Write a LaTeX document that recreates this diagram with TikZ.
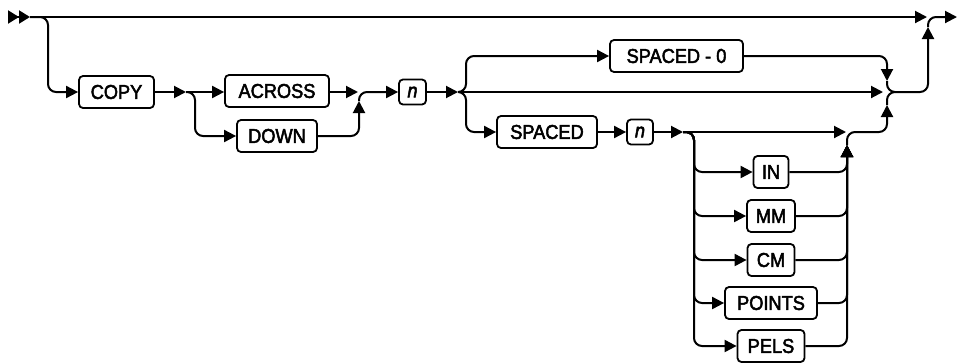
\documentclass[tikz,border=0pt]{standalone}
\usepackage{fontspec}
\setmainfont{Liberation Sans}
\newfontfamily\railfont{Liberation Sans}[FakeBold=2.5, FakeStretch=0.91]
\usetikzlibrary{arrows.meta}

\begin{document}
\begin{tikzpicture}[
      x=1pt, y=-1pt,
      kw/.style={draw, line width=1.8pt, rounded corners=4pt, minimum height=32pt, inner sep=0pt, font=\railfont\fontsize{20}{24}\selectfont},
      var/.style={kw, minimum height=25pt, font=\railfont\fontsize{20}{24}\selectfont\itshape},
      rail/.style={line width=2pt, rounded corners=8pt},
      arrow/.style={rail, -{Triangle[length=12pt, width=12pt]}},
      entry/.style={line width=2pt, -{Triangle[length=11pt, width=13pt]Triangle[length=11pt, width=13pt]}}
  ]
      \useasboundingbox (0,0) rectangle (957,362);

      \node[kw, minimum width=75pt] (copy) at (116.5,92) {COPY};
      \node[kw, minimum width=104pt] (across) at (277,91) {ACROSS};
      \node[kw, minimum width=80pt] (down) at (277,136) {DOWN};
      \node[var, minimum width=27pt] (n1) at (412.5,92) {n};
      \node[kw, minimum width=133pt] (spacedz) at (676.5,56) {SPACED - 0};
      \node[kw, minimum width=100pt] (spaced) at (547,132) {SPACED};
      \node[var, minimum width=26pt] (n2) at (640,132) {n};
      \foreach \u/\w/\y in {IN/35/172, MM/48/216, CM/47/260, POINTS/92/303, PELS/67/346}
          \node[kw, minimum width=\w pt] (\u) at (771,\y) {\u};

      \coordinate (in0) at (8,17);
      \coordinate (s0) at (30,17);
      \coordinate (t1) at (927,17);
      \coordinate (t2) at (928,27);
      \coordinate (fin) at (957,17);
      \coordinate (j1) at (186,92);
      \coordinate (m1) at (358,92);
      \coordinate (m1b) at (359,101);
      \coordinate (j2) at (458,92);
      \coordinate (m2) at (883,92);
      \coordinate (m2a) at (887,81);
      \coordinate (m2b) at (887,105);
      \coordinate (j3) at (683,132);
      \coordinate (m3) at (846,132);
      \coordinate (m3b) at (847,145);

      \draw[entry] (in0) -- (s0);
      \draw[arrow] (s0) -- (t1);
      \draw[arrow] (s0) -- (48,17) |- (copy.west);
      \draw[arrow] (copy) -- (j1);
      \draw[arrow] (j1) -- (across.west |- j1);
      \draw[arrow] (j1) -- (195,92) |- (down.west);
      \draw[arrow] (across.east |- m1) -- (m1);
      \draw[arrow] (down.east) -| (m1b);
      \draw[arrow] (m1b) |- (n1.west);
      \draw[arrow] (n1) -- (j2);
      \draw[arrow] (j2) -- (m2);
      \draw[arrow] (j2) -- (466,92) |- (spacedz.west);
      \draw[arrow] (j2) -- (466,92) |- (spaced.west);
      \draw[arrow] (spacedz.east) -| (m2a);
      \draw[arrow] (spaced) -- (n2);
      \draw[arrow] (n2) -- (j3);
      \draw[arrow] (j3) -- (m3);
      \foreach \u in {IN,MM,CM,POINTS,PELS} {
          \draw[arrow] (j3) -- (694,132) |- (\u.west);
          \draw[arrow] (\u.east) -| (m3b);
      }
      \draw[arrow] (m3b) |- (887,132) -- (m2b);
      \draw[rail] (m2b) |- (895,92);
      \draw[arrow] (m2a) |- (928,92) -- (t2);
      \draw[arrow] (t2) |- (fin);
  \end{tikzpicture}
\end{document}
